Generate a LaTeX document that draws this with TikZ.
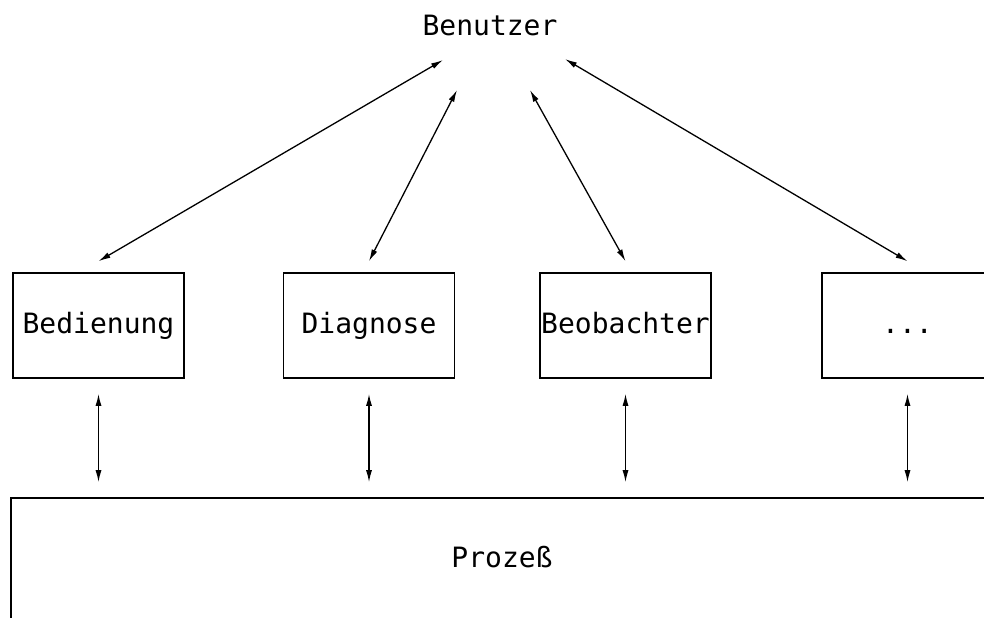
\documentclass[tikz,border=0pt]{standalone}
\usepackage{fontspec}
\setmonofont{DejaVu Sans Mono}
\usetikzlibrary{arrows.meta}
\begin{document}
\begin{tikzpicture}[x=0.5pt,y=-0.5pt,
  lbl/.style={font=\ttfamily\fontsize{14}{16}\selectfont},
  unit/.style={lbl,draw,line width=0.8pt,minimum width=85.5pt,minimum height=52.5pt,
    inner sep=0pt,text height=10.2pt,text depth=2.5pt},
  tip/.tip={Latex[length=6pt,width=3pt]},
  biarrow/.style={tip-tip,line width=0.65pt}]
\clip (0,0) rectangle (984,617);

% user at the top
\node[lbl,anchor=base] (ben) at (490,35) {Benutzer};

% the four units
\node[unit] (bed) at (98.5,325.5) {Bedienung};
\node[unit] (dia) at (369,325.5) {Diagnose};
\node[unit] (beo) at (625.5,325.5) {Beobachter};
\node[unit] (etc) at (907.5,325.5) {...};

% process, running off the right and bottom edges
\node[unit,minimum width=491pt,minimum height=62pt] (proz) at (502,560) {Prozeß};

% upper ends of the links to the user
\coordinate (u1) at (443,60);
\coordinate (u2) at (457,90);
\coordinate (u3) at (530,90);
\coordinate (u4) at (565,59);

\draw[biarrow] (u1) -- ([yshift=5.5pt]bed.north);
\draw[biarrow] (u2) -- ([yshift=5.5pt]dia.north);
\draw[biarrow] (u3) -- ([yshift=5.5pt]beo.north);
\draw[biarrow] (u4) -- ([yshift=5.5pt]etc.north);

% links between units and process
\foreach \n in {bed,dia,beo,etc}
  \draw[biarrow,shorten <=7.5pt,shorten >=7.5pt] (\n.south) -- (\n.south |- proz.north);
\end{tikzpicture}
\end{document}
